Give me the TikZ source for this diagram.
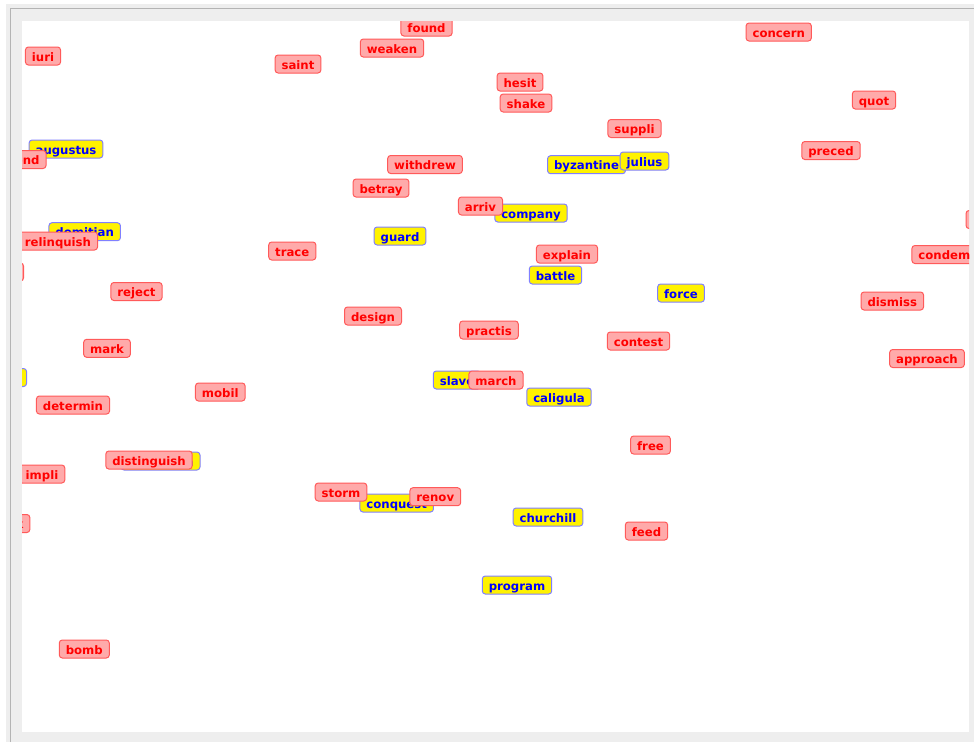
\documentclass[tikz,border=0pt]{standalone}
\usepackage{fontspec}
\setmainfont{DejaVu Sans}
\usepackage{xcolor}
\definecolor{panelgrey}{HTML}{EEEEEE}
\definecolor{edgegrey}{HTML}{B4B4B4}
\definecolor{termfill}{HTML}{FFAAAA}
\definecolor{termedge}{HTML}{FF5A5A}
\definecolor{nameedge}{HTML}{8080FF}
\tikzset{
  wordbox/.style={draw, rounded corners=3pt, inner xsep=6.5pt, inner ysep=0pt,
    minimum height=18pt, text height=10pt, text depth=0pt, line width=1pt,
    font=\fontsize{11.7}{14}\selectfont\bfseries},
  termbox/.style={wordbox, fill=termfill, draw=termedge, text=red},
  namebox/.style={wordbox, fill=yellow, draw=nameedge, text=blue},
}

\begin{document}
\begin{tikzpicture}[x=1pt, y=-1pt]
  \useasboundingbox (0,0) rectangle (974,742);
  \fill[panelgrey] (6,4) rectangle (974,742);
  \draw[edgegrey, line width=1.2pt] (10.5,742) -- (10.5,8.5) -- (974,8.5);
  \fill[white] (22,21) rectangle (969,732);

  \begin{scope}
    \clip (22,21) rectangle (969,732);
    % names (yellow)
    \node[namebox] (augustus)  at (66,149)    {augustus};
    \node[namebox] (domitian)  at (84.7,231.7) {domitian};
    \node[namebox] (nero)      at (5,377.5)   {nero};
    \node[namebox] (vespasian) at (160.5,461) {vespasian};
    \node[namebox] (guard)     at (400,236)   {guard};
    \node[namebox] (byzantine) at (586.5,164.7) {byzantine};
    \node[namebox] (julius)    at (644.5,161) {julius};
    \node[namebox] (company)   at (531,213)   {company};
    \node[namebox] (battle)    at (555.5,275) {battle};
    \node[namebox] (force)     at (681,293)   {force};
    \node[namebox] (slave)     at (457,380)   {slave};
    \node[namebox] (caligula)  at (559,397)   {caligula};
    \node[namebox] (conquest)  at (396.7,503) {conquest};
    \node[namebox] (churchill) at (548,517)   {churchill};
    \node[namebox] (program)   at (517,585)   {program};
    % terms (red)
    \node[termbox] (iuri)     at (43,56)      {iuri};
    \node[termbox] (defend)   at (16.5,159.5) {defend};
    \node[termbox] (relinquish) at (58,241)   {relinquish};
    \node[termbox] (revers)   at (-4,272)     {revers};
    \node[termbox] (reject)   at (136.5,291.5) {reject};
    \node[termbox] (mark)     at (107,348.3)  {mark};
    \node[termbox] (determin) at (73,405)     {determin};
    \node[termbox] (mobil)    at (220.3,392)  {mobil};
    \node[termbox] (distinguish) at (149,460) {distinguish};
    \node[termbox] (impli)    at (42,474)     {impli};
    \node[termbox] (attack)   at (2.5,523.5)  {attack};
    \node[termbox] (bomb)     at (84.3,649)   {bomb};
    \node[termbox] (saint)    at (298,64)     {saint};
    \node[termbox] (found)    at (426.5,27)   {found};
    \node[termbox] (weaken)   at (392,48)     {weaken};
    \node[termbox] (hesit)    at (520,82)     {hesit};
    \node[termbox] (shake)    at (526,103)    {shake};
    \node[termbox] (suppli)   at (634.5,128.5) {suppli};
    \node[termbox] (withdrew) at (425,164.5)  {withdrew};
    \node[termbox] (betray)   at (381,188)    {betray};
    \node[termbox] (arriv)    at (480.5,206)  {arriv};
    \node[termbox] (trace)    at (292.3,251)  {trace};
    \node[termbox] (explain)  at (567,254)    {explain};
    \node[termbox] (design)   at (373,316)    {design};
    \node[termbox] (practis)  at (489,330)    {practis};
    \node[termbox] (contest)  at (638.5,341)  {contest};
    \node[termbox] (march)    at (496,380)    {march};
    \node[termbox] (free)     at (650.5,445)  {free};
    \node[termbox] (storm)    at (341,492)    {storm};
    \node[termbox] (renov)    at (435.3,496.7) {renov};
    \node[termbox] (feed)     at (646.5,531)  {feed};
    \node[termbox] (concern)  at (778.7,32)   {concern};
    \node[termbox] (quot)     at (874,100)    {quot};
    \node[termbox] (preced)   at (831,150.5)  {preced};
    \node[termbox] (revolt)   at (992,219.5)  {revolt};
    \node[termbox] (condemn)  at (948.5,254.5) {condemn};
    \node[termbox] (dismiss)  at (892.3,301)  {dismiss};
    \node[termbox] (approach) at (927,358.5)  {approach};
  \end{scope}
\end{tikzpicture}
\end{document}
